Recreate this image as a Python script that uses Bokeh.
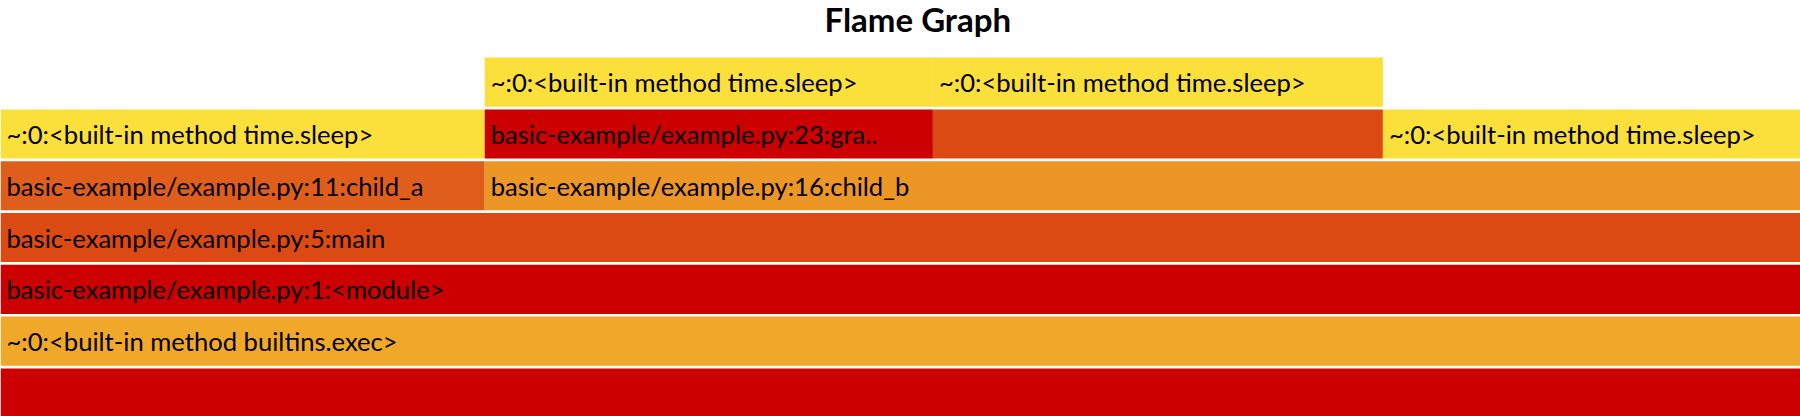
from bokeh.plotting import figure
from bokeh.models import Range1d, ColumnDataSource
from bokeh.core.properties import value
from bokeh.embed import file_html
from bokeh.resources import INLINE

# ---- data ----
names = [
    "root",
    "~:0:<built-in method builtins.exec>",
    "basic-example/example.py:1:<module>",
    "basic-example/example.py:5:main",
    "basic-example/example.py:11:child_a",
    "basic-example/example.py:16:child_b",
    "~:0:<built-in method time.sleep>",
    "basic-example/example.py:23:grandchild",
    "",
    "~:0:<built-in method time.sleep>",
    "~:0:<built-in method time.sleep>",
    "~:0:<built-in method time.sleep>",
]
labels = [
    "",
    "~:0:<built-in method builtins.exec>",
    "basic-example/example.py:1:<module>",
    "basic-example/example.py:5:main",
    "basic-example/example.py:11:child_a",
    "basic-example/example.py:16:child_b",
    "~:0:<built-in method time.sleep>",
    "basic-example/example.py:23:gra..",
    "",
    "~:0:<built-in method time.sleep>",
    "~:0:<built-in method time.sleep>",
    "~:0:<built-in method time.sleep>",
]
parents = [-1, 0, 1, 2, 3, 3, 4, 5, 5, 5, 7, 8]
values = [10.0, 10.0, 10.0, 10.0, 2.69, 7.31, 2.69, 2.49, 2.50, 2.32, 2.49, 2.50]
colors = [
    "#cc0000", "#f0a82b", "#cc0000", "#dc4a13", "#df5e1c", "#ec9626",
    "#fbdf3a", "#cc0000", "#dc4a13", "#fbdf3a", "#fbdf3a", "#fbdf3a",
]

# ---- layout from tree structure ----
n = len(names)
starts = [0.0] * n
levels = [0] * n
next_child = {}
for i in range(n):
    p_ = parents[i]
    if p_ < 0:
        starts[i] = 0.0
        levels[i] = 0
    else:
        s = next_child.get(p_, starts[p_])
        starts[i] = s
        next_child[p_] = s + values[i]
        levels[i] = levels[p_] + 1

ROW_H = 0.948
src = ColumnDataSource(dict(
    left=starts,
    right=[s + v for s, v in zip(starts, values)],
    bottom=levels,
    top=[l + ROW_H for l in levels],
    ymid=[l + ROW_H / 2 for l in levels],
    color=colors,
    label=labels,
))

FONT = "Lato"
W, H = 1800, 416
p = figure(width=W, height=H, output_backend="svg", toolbar_location=None,
           x_range=Range1d(0, values[0]), y_range=Range1d(0.02, 7.374),
           min_border_left=0, min_border_right=0, min_border_bottom=0,
           min_border_top=0)
p.title.text = "Flame Graph"
p.title.align = "left"
p.title.offset = 824
p.title.text_font = FONT
p.title.text_font_size = "33px"
p.title.text_font_style = "bold"
p.title.text_color = "#000000"
p.title.standoff = -7
p.axis.visible = False
p.grid.visible = False
p.outline_line_color = None
p.background_fill_color = "white"
p.border_fill_color = "white"

p.quad(left="left", right="right", bottom="bottom", top="top",
       fill_color="color", line_color=None, source=src)
p.text(x="left", y="ymid", text="label", source=src, x_offset=6,
       text_baseline="middle", text_align="left", text_color="#000000",
       text_font=value(FONT), text_font_size="25.6px")

open("out.html", "w").write(file_html(p, INLINE))
